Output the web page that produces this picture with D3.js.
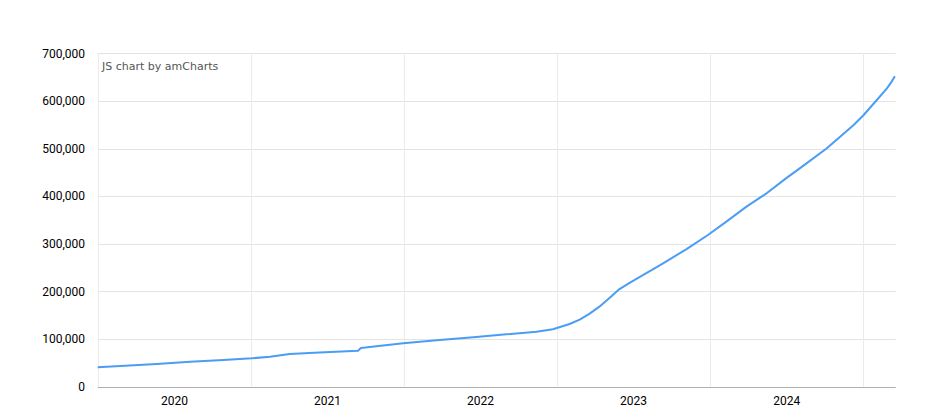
<!DOCTYPE html>
<html>
<head>
<meta charset="utf-8">
<script src="https://cdn.jsdelivr.net/npm/d3@7"></script>
<style>
  body { margin: 0; background: #fff; }
  #chart { width: 931px; height: 416px; }
</style>
</head>
<body>
<div id="chart"></div>
<script>
var dates = [
  '2020-01-01', '2020-05-21', '2020-08-08', '2020-10-27', '2021-01-03', '2021-02-15',
  '2021-04-03', '2021-06-13', '2021-09-13', '2021-09-20', '2021-12-30', '2022-03-20',
  '2022-06-15', '2022-09-02', '2022-11-13', '2022-12-22', '2023-01-31', '2023-02-24',
  '2023-03-19', '2023-04-12', '2023-05-06', '2023-05-30', '2023-06-23', '2023-09-11',
  '2023-11-05', '2023-12-27', '2024-02-09', '2024-03-28', '2024-05-15', '2024-07-01',
  '2024-08-02', '2024-10-05', '2024-12-08', '2025-01-01', '2025-02-02', '2025-02-26',
  '2025-03-09', '2025-03-17'
];
var values = [
  41000, 47700, 52500, 56000, 59600, 63000,
  68600, 72000, 75600, 81200, 91000, 97400,
  103700, 110000, 115600, 120500, 131600, 141000,
  153000, 168000, 186000, 205000, 218000, 259000,
  288500, 318500, 346500, 378000, 406000, 438000,
  458500, 500000, 549000, 570000, 602000, 626500,
  640000, 652000
];
var yTicks = [0, 100000, 200000, 300000, 400000, 500000, 600000, 700000];
var yearLabels = ['2020', '2021', '2022', '2023', '2024'];
var xStart = '2020-01-01', xEnd = '2025-03-19';

var parse = d3.timeParse('%Y-%m-%d');
var data = dates.map((d, i) => ({ date: parse(d), value: values[i] }));

var width = 931, height = 416;
var margin = { left: 97.7, right: 35.3, top: 53.3, bottom: 29.3 };

var svg = d3.select('#chart').append('svg')
  .attr('width', width)
  .attr('height', height);

var x = d3.scaleTime()
  .domain([parse(xStart), parse(xEnd)])
  .range([margin.left, width - margin.right]);
var y = d3.scaleLinear()
  .domain([0, 700000])
  .range([height - margin.bottom, margin.top]);

// horizontal grid
svg.append('g')
  .selectAll('line')
  .data(yTicks.slice(1))
  .enter()
  .append('line')
  .attr('x1', margin.left)
  .attr('x2', width - margin.right)
  .attr('y1', d => Math.round(y(d)) + 0.5)
  .attr('y2', d => Math.round(y(d)) + 0.5)
  .attr('stroke', '#e3e3e3');

// vertical grid at the start of every year
var yearStarts = d3.timeYear.range(parse(xStart), parse(xEnd));
yearStarts.push(parse('2025-01-01'));
svg.append('g')
  .selectAll('line')
  .data(yearStarts)
  .enter()
  .append('line')
  .attr('x1', d => Math.round(x(d)) + 0.5)
  .attr('x2', d => Math.round(x(d)) + 0.5)
  .attr('y1', margin.top)
  .attr('y2', height - margin.bottom)
  .attr('stroke', '#ebebeb');

// bottom axis line
svg.append('line')
  .attr('x1', margin.left)
  .attr('x2', width - margin.right)
  .attr('y1', Math.round(y(0)) + 0.5)
  .attr('y2', Math.round(y(0)) + 0.5)
  .attr('stroke', '#b0b0b0');

// y axis labels
var fmt = d3.format(',');
svg.append('g')
  .selectAll('text')
  .data(yTicks)
  .enter()
  .append('text')
  .attr('x', 85)
  .attr('y', d => y(d))
  .attr('dy', '0.35em')
  .attr('text-anchor', 'end')
  .style('font-family', 'Roboto, sans-serif')
  .style('font-size', '12px')
  .style('fill', '#000')
  .text(d => fmt(d));

// x labels centred in each year cell
svg.append('g')
  .selectAll('text')
  .data(yearLabels)
  .enter()
  .append('text')
  .attr('x', d => (x(parse(d + '-01-01')) + x(parse((+d + 1) + '-01-01'))) / 2)
  .attr('y', 401)
  .attr('dy', '0.35em')
  .attr('text-anchor', 'middle')
  .style('font-family', 'Roboto, sans-serif')
  .style('font-size', '12px')
  .style('fill', '#000')
  .text(d => d);

// the series
var line = d3.line()
  .x(d => x(d.date))
  .y(d => y(d.value));

svg.append('path')
  .datum(data)
  .attr('d', line)
  .attr('fill', 'none')
  .attr('stroke', '#4a9df5')
  .attr('stroke-width', 2)
  .attr('stroke-linejoin', 'round');

// watermark
svg.append('text')
  .attr('x', 102)
  .attr('y', 66)
  .attr('dy', '0.35em')
  .style('font-family', '"DejaVu Sans", Verdana, sans-serif')
  .style('font-size', '11px')
  .style('fill', '#555')
  .text('JS chart by amCharts');
</script>
</body>
</html>
